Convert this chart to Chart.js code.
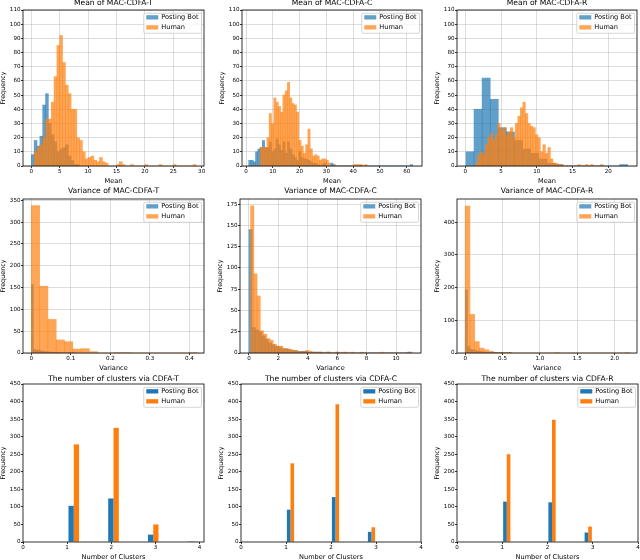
<!DOCTYPE html>
<html>
<head>
<meta charset="utf-8">
<script src="https://cdn.jsdelivr.net/npm/chart.js@4.4.1/dist/chart.umd.min.js"></script>
<style>
html, body { margin: 0; padding: 0; background: #fff; width: 640px; height: 560px; overflow: hidden; }
.panel { position: absolute; }
</style>
</head>
<body>
<script>
// ---------- data ----------
const seriesLabels = ['Posting Bot', 'Human'];

// Mean of MAC-CDFA-T : bins start / width and counts
const meanTStart = 0, meanTWidth = 0.5;
const meanTBot = [8, 18, 14, 21, 43, 51, 30, 22, 17, 10, 12, 13, 15, 7, 4, 1, 1];
const meanTHuman = [0, 10, 13, 15, 20, 33, 33, 45, 63, 85, 92, 73, 57, 51, 40, 40, 20, 18, 10, 5,
  6, 7, 4, 3, 6, 3, 2, 0, 0, 0, 1, 3, 1, 0, 0, 1, 0, 0, 0, 0,
  1, 0, 0, 0, 0, 1, 0, 0, 0, 0, 1, 0, 0, 0, 0, 0, 0, 1];

// Mean of MAC-CDFA-C
const meanCStart = 1.0, meanCWidth = 0.85;
const meanCBot = [4, 4, 3, 10, 12, 13, 18, 13, 13, 17, 10, 12, 19, 15, 11, 17, 9, 17, 12, 8,
  6, 4, 10, 6, 5, 5, 4, 3, 2, 2, 1, 0, 1, 2, 0, 0, 2, 1, 0, 0,
  0, 0, 0, 0, 0, 0, 0, 0, 0, 0, 0, 0, 0, 0, 0, 0, 0, 0, 0, 0,
  0, 0, 0, 0, 0, 0, 0, 0, 0, 0, 0, 1];
const meanCHuman = [0, 0, 0, 0, 0, 13, 13, 13, 20, 37, 30, 48, 45, 42, 38, 50, 53, 59, 48, 44,
  43, 38, 18, 14, 9, 15, 26, 12, 7, 8, 7, 4, 5, 5, 4, 2, 0, 0, 0, 0,
  0, 0, 0, 0, 0, 0, 1, 1, 1, 1, 0, 1];

// Mean of MAC-CDFA-R
const meanRBotStart = 0.1, meanRBotWidth = 1.13;
const meanRBot = [10, 40, 62, 47, 27, 24, 18, 12, 9, 5, 2, 1, 0, 0, 0, 0, 0, 0, 0, 1];
const meanRHumanStart = 1.4, meanRHumanWidth = 0.35;
const meanRHuman = [2, 8, 10, 8, 15, 20, 23, 18, 22, 30, 26, 27, 22, 24, 27, 20, 30, 35, 41, 45,
  37, 30, 28, 27, 22, 20, 10, 15, 9, 13, 5, 2, 2, 1, 1, 0, 0, 0, 0, 0,
  0, 1, 0, 0, 1, 0, 1, 0, 0, 0, 1];

// Variance of MAC-CDFA-T
const varTBotStart = 0, varTBotWidth = 0.0055;
const varTBot = [157, 8, 6, 7, 5, 4, 3, 3, 2, 2, 1, 1, 1, 1, 0, 0, 0, 1, 0, 1];
const varTHumanStart = 0, varTHumanWidth = 0.021;
const varTHuman = [338, 153, 77, 30, 26, 9, 10, 3, 0, 0, 1, 1, 0, 0, 0, 0, 0, 0, 0, 1];

// Variance of MAC-CDFA-C
const varCBotStart = 0, varCBotWidth = 0.22;
const varCBot = [145, 30, 27, 25, 20, 16, 12, 10, 8, 7, 5, 5, 4, 3, 3, 2, 2, 2, 1, 1,
  1, 1, 1, 0, 1, 0, 0, 1, 0, 0, 0, 0, 0, 0, 0, 0, 0, 0, 0, 0,
  0, 0, 0, 0, 0, 0, 0, 0, 0, 1];
const varCHumanStart = 0.11, varCHumanWidth = 0.22;
const varCHuman = [173, 93, 67, 26, 22, 17, 15, 10, 8, 8, 5, 5, 4, 3, 2, 2, 1, 3, 2, 1,
  1, 1, 0, 1, 1, 0, 1, 0, 1, 1, 0, 1, 0, 0, 1, 0, 0, 0, 0, 0,
  1, 0, 0, 0, 0, 0, 0, 0, 0, 1];

// Variance of MAC-CDFA-R
const varRBotStart = 0, varRBotWidth = 0.031;
const varRBot = [193, 20, 12, 10, 8, 6, 5, 4, 3, 2, 2, 1, 1, 1, 0, 1, 0, 0, 0, 1];
const varRHumanStart = 0, varRHumanWidth = 0.063;
const varRHuman = [449, 118, 35, 15, 10, 5, 2, 2, 1, 1, 0, 0, 0, 0, 0, 0, 0, 0, 0, 1,
  0, 0, 0, 0, 0, 0, 0, 0, 0, 0, 0, 0, 0, 0, 1];

// The number of clusters (10 bins each)
const clustTStart = 1, clustTWidth = 0.3;
const clustTBot = [103, 0, 0, 124, 0, 0, 21, 0, 0, 2];
const clustTHuman = [278, 0, 0, 325, 0, 0, 50, 0, 0, 2];
const clustCStart = 1, clustCWidth = 0.2;
const clustCBot = [92, 0, 0, 0, 0, 128, 0, 0, 0, 29];
const clustCHuman = [224, 0, 0, 0, 0, 392, 0, 0, 0, 42];
const clustRStart = 1, clustRWidth = 0.2;
const clustRBot = [115, 0, 0, 0, 0, 113, 0, 0, 0, 27];
const clustRHuman = [250, 0, 0, 0, 0, 348, 0, 0, 0, 44];

// ---------- styles ----------
const FONT = '"DejaVu Sans", "Liberation Sans", sans-serif';
const BOT_A = 'rgba(31,119,180,0.7)';
const HUM_A = 'rgba(255,127,14,0.7)';
const BOT = '#1f77b4';
const HUM = '#ff7f0e';
const GRID = 'rgba(176,176,176,0.55)';
const Y_AXIS_W = 23, X_AXIS_H = 20, PAD_RIGHT = 5;

function toBins(start, width, counts) {
    return counts.map((c, i) => ({ x: start + width * (i + 0.5), y: c }));
}

// panel layout: plot area [left, top, right, bottom], title block height
const panels = [
    { kind: 'hist', title: 'Mean of MAC-CDFA-T', xTitle: 'Mean', area: [23, 10, 204, 166], titleH: 12,
      x: [-1.47, 30.41, 5], y: [110, 10],
      bot: toBins(meanTStart, meanTWidth, meanTBot), human: toBins(meanTStart, meanTWidth, meanTHuman) },
    { kind: 'hist', title: 'Mean of MAC-CDFA-C', xTitle: 'Mean', area: [242, 10, 422, 166], titleH: 12,
      x: [-1.5, 65.7, 10], y: [110, 10],
      bot: toBins(meanCStart, meanCWidth, meanCBot), human: toBins(meanCStart, meanCWidth, meanCHuman) },
    { kind: 'hist', title: 'Mean of MAC-CDFA-R', xTitle: 'Mean', area: [457, 10, 637, 166], titleH: 12,
      x: [-1.15, 24.0, 5], y: [110, 10],
      bot: toBins(meanRBotStart, meanRBotWidth, meanRBot), human: toBins(meanRHumanStart, meanRHumanWidth, meanRHuman) },
    { kind: 'hist', title: 'Variance of MAC-CDFA-T', xTitle: 'Variance', area: [23, 199, 204, 353], titleH: 13,
      x: [-0.021, 0.437, 0.1], y: [353, 50],
      bot: toBins(varTBotStart, varTBotWidth, varTBot), human: toBins(varTHumanStart, varTHumanWidth, varTHuman) },
    { kind: 'hist', title: 'Variance of MAC-CDFA-C', xTitle: 'Variance', area: [240, 199, 421, 353], titleH: 13,
      x: [-0.61, 11.7, 2], y: [181, 25],
      bot: toBins(varCBotStart, varCBotWidth, varCBot), human: toBins(varCHumanStart, varCHumanWidth, varCHuman) },
    { kind: 'hist', title: 'Variance of MAC-CDFA-R', xTitle: 'Variance', area: [457, 199, 637, 353], titleH: 13,
      x: [-0.11, 2.30, 0.5], y: [471, 100],
      bot: toBins(varRBotStart, varRBotWidth, varRBot), human: toBins(varRHumanStart, varRHumanWidth, varRHuman) },
    { kind: 'group', title: 'The number of clusters via CDFA-T', xTitle: 'Number of Clusters', area: [23, 384, 204, 542], titleH: 10,
      x: [0, 4.1, 1], y: [450, 50],
      bot: toBins(clustTStart, clustTWidth, clustTBot), human: toBins(clustTStart, clustTWidth, clustTHuman) },
    { kind: 'group', title: 'The number of clusters via CDFA-C', xTitle: 'Number of Clusters', area: [241, 384, 421, 542], titleH: 10,
      x: [0, 4, 1], y: [450, 50],
      bot: toBins(clustCStart, clustCWidth, clustCBot), human: toBins(clustCStart, clustCWidth, clustCHuman) },
    { kind: 'group', title: 'The number of clusters via CDFA-R', xTitle: 'Number of Clusters', area: [457, 384, 638, 542], titleH: 10,
      x: [0, 4, 1], y: [450, 50],
      bot: toBins(clustRStart, clustRWidth, clustRBot), human: toBins(clustRStart, clustRWidth, clustRHuman) }
];

// black box around the plot area (matplotlib spines)
const framePlugin = {
    id: 'frame',
    afterDatasetsDraw(chart) {
        const { ctx, chartArea: a } = chart;
        ctx.save();
        ctx.strokeStyle = '#000';
        ctx.lineWidth = 0.8;
        ctx.strokeRect(a.left, a.top, a.right - a.left, a.bottom - a.top);
        ctx.restore();
    }
};

// legend box in the upper right corner of the plot area
const boxLegendPlugin = {
    id: 'boxLegend',
    afterDraw(chart) {
        const { ctx, chartArea: a } = chart;
        const ds = chart.data.datasets;
        ctx.save();
        ctx.font = '6.6px ' + FONT;
        const textW = Math.max(...ds.map(d => ctx.measureText(d.label).width));
        const w = 2.5 + 12 + 3 + textW + 3;
        const h = 20;
        const x = a.right - 2.5 - w;
        const y = a.top + 3.3;
        ctx.beginPath();
        if (ctx.roundRect) ctx.roundRect(x, y, w, h, 1.5); else ctx.rect(x, y, w, h);
        ctx.fillStyle = 'rgba(255,255,255,0.8)';
        ctx.fill();
        ctx.strokeStyle = '#cccccc';
        ctx.lineWidth = 0.8;
        ctx.stroke();
        ds.forEach((d, i) => {
            const cy = y + 4 + i * 10;
            ctx.fillStyle = d.backgroundColor;
            ctx.fillRect(x + 2.5, cy - 2.1, 12, 4.3);
            ctx.fillStyle = '#000';
            ctx.textBaseline = 'middle';
            ctx.textAlign = 'left';
            ctx.fillText(d.label, x + 2.5 + 12 + 3, cy + 0.3);
        });
        ctx.restore();
    }
};

function axisTicks(step) {
    return { stepSize: step, maxTicksLimit: 20, includeBounds: false, autoSkip: false, maxRotation: 0,
             padding: 0.5, color: '#000', font: { family: FONT, size: 5.6 } };
}

function gridOpts(showGrid) {
    return { display: true, drawOnChartArea: showGrid, color: GRID, lineWidth: 0.8, offset: false,
             drawTicks: true, tickColor: '#000', tickLength: 2, tickWidth: 0.8 };
}

function buildPanel(p) {
    const [l, t, r, b] = p.area;
    const div = document.createElement('div');
    div.className = 'panel';
    div.style.left = (l - Y_AXIS_W) + 'px';
    div.style.top = (t - p.titleH) + 'px';
    div.style.width = (r - l + Y_AXIS_W + PAD_RIGHT) + 'px';
    div.style.height = (p.titleH + (b - t) + X_AXIS_H) + 'px';
    const canvas = document.createElement('canvas');
    div.appendChild(canvas);
    document.body.appendChild(div);

    const hist = p.kind === 'hist';
    const datasets = [
        { label: seriesLabels[0], data: p.bot, backgroundColor: hist ? BOT_A : BOT, borderWidth: 0 },
        { label: seriesLabels[1], data: p.human, backgroundColor: hist ? HUM_A : HUM, borderWidth: 0 }
    ];
    if (hist) {
        // overlapping histograms, each on its own index axis so bars take a full bin width
        datasets[0].xAxisID = 'xb';
        datasets[0].order = 1;
        datasets[1].xAxisID = 'x';
        datasets[1].order = 0;
        datasets.forEach(d => { d.grouped = false; d.barPercentage = 1; d.categoryPercentage = 1; });
    } else {
        datasets.forEach(d => { d.xAxisID = 'x'; d.barPercentage = 1; d.categoryPercentage = 0.8; });
    }

    const scales = {
        x: {
            type: 'linear', min: p.x[0], max: p.x[1], offset: false,
            grid: gridOpts(hist), border: { display: false },
            ticks: axisTicks(p.x[2]),
            title: { display: true, text: p.xTitle, color: '#000', font: { family: FONT, size: 6.6 }, padding: { top: 1, bottom: 1 } },
            afterFit: s => { s.height = X_AXIS_H; }
        },
        y: {
            type: 'linear', min: 0, max: p.y[0],
            grid: gridOpts(hist), border: { display: false },
            ticks: axisTicks(p.y[1]),
            title: { display: true, text: 'Frequency', color: '#000', font: { family: FONT, size: 6.4 }, padding: { top: 0, bottom: 0 } },
            afterFit: s => { s.width = Y_AXIS_W; }
        }
    };
    if (hist) {
        scales.xb = { type: 'linear', display: false, min: p.x[0], max: p.x[1], offset: false, grid: { offset: false } };
    }

    new Chart(canvas, {
        type: 'bar',
        data: { datasets },
        options: {
            responsive: true,
            maintainAspectRatio: false,
            animation: false,
            layout: { padding: { left: 0, top: 0, right: PAD_RIGHT, bottom: 0 } },
            plugins: {
                legend: { display: false },
                tooltip: { enabled: false },
                title: {
                    display: true, text: p.title, fullSize: false, color: '#000',
                    font: { family: FONT, size: 7.6, weight: 'normal', lineHeight: 1.2 },
                    padding: { top: 0, bottom: p.titleH - 9.12 }
                }
            },
            scales
        },
        plugins: [framePlugin, boxLegendPlugin]
    });
}

panels.forEach(p => {
    try {
        buildPanel(p);
    } catch (err) {
        console.error('Error drawing panel:', p.title, err);
    }
});
</script>
</body>
</html>
